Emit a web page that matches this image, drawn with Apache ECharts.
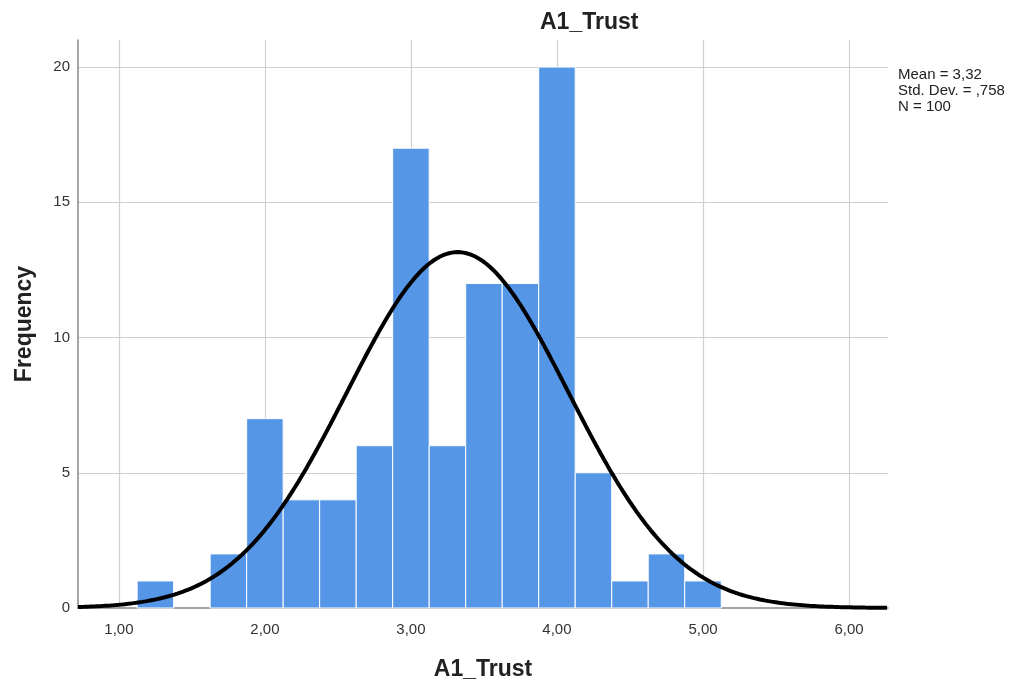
<!DOCTYPE html>
<html>
<head>
<meta charset="utf-8">
<script src="https://cdn.jsdelivr.net/npm/echarts@6/dist/echarts.min.js"></script>
<style>html,body{margin:0;padding:0;background:#fff;}#c{width:1013px;height:686px;}</style>
</head>
<body>
<div id="c"></div>
<script>
// Histogram bins (lower edge, upper edge) and frequencies
const binLower = [1.125, 1.625, 1.875, 2.125, 2.375, 2.625, 2.875, 3.125, 3.375, 3.625, 3.875, 4.125, 4.375, 4.625, 4.875];
const binUpper = [1.375, 1.875, 2.125, 2.375, 2.625, 2.875, 3.125, 3.375, 3.625, 3.875, 4.125, 4.375, 4.625, 4.875, 5.125];
const frequencies = [1, 2, 7, 4, 4, 6, 17, 6, 12, 12, 20, 5, 1, 2, 1];
const xTicks = [1, 2, 3, 4, 5, 6];
const yTicks = [0, 5, 10, 15, 20];
// Summary statistics shown on the chart (define the fitted normal curve)
const statMean = 3.32;
const statSD = 0.758;
const statN = 100;
const binWidth = 0.25;

const xMin = 0.72, xMax = 6.267, yMax = 21;

const barData = binLower.map((lo, i) => [lo, binUpper[i], frequencies[i]]);
const curve = [];
for (let x = xMin; x <= xMax + 1e-9; x += 0.01) {
  const z = (x - statMean) / statSD;
  curve.push([x, statN * binWidth / (statSD * Math.sqrt(2 * Math.PI)) * Math.exp(-0.5 * z * z)]);
}
const gridLines = xTicks.map(v => ({xAxis: v})).concat(yTicks.filter(v => v > 0).map(v => ({yAxis: v})));

const chart = echarts.init(document.getElementById('c'), null, {renderer: 'canvas'});
chart.setOption({
  animation: false,
  backgroundColor: '#fff',
  textStyle: {fontFamily: 'Liberation Sans, Arial, sans-serif'},
  title: {
    text: 'A1_Trust', left: 535, top: 6,
    textStyle: {fontSize: 23, fontWeight: 'bold', color: '#222', fontFamily: 'Liberation Sans, Arial, sans-serif'}
  },
  graphic: [{
    type: 'text', left: 898, top: 67,
    style: {
      text: 'Mean = ' + statMean.toFixed(2).replace('.', ',') + '\nStd. Dev. = ,' + statSD.toFixed(3).split('.')[1] + '\nN = ' + statN,
      font: '15px Liberation Sans, Arial, sans-serif', fill: '#222', lineHeight: 16
    }
  }],
  grid: {left: 78, right: 125, top: 40, bottom: 78, outerBoundsMode: 'none'},
  xAxis: {
    type: 'value', min: xMin, max: xMax,
    name: 'A1_Trust', nameLocation: 'middle', nameGap: 50,
    nameTextStyle: {fontSize: 23, fontWeight: 'bold', color: '#222'},
    axisLine: {show: true, lineStyle: {color: '#888', width: 1.5}},
    axisTick: {show: false, customValues: xTicks},
    splitLine: {show: false},
    axisLabel: {customValues: xTicks, fontSize: 15, color: '#333', margin: 14,
      formatter: v => v.toFixed(2).replace('.', ',')}
  },
  yAxis: {
    type: 'value', min: 0, max: yMax,
    name: 'Frequency', nameLocation: 'middle', nameGap: 42,
    nameTextStyle: {fontSize: 23, fontWeight: 'bold', color: '#222'},
    axisLine: {show: true, lineStyle: {color: '#888', width: 1.5}},
    axisTick: {show: false, customValues: yTicks},
    splitLine: {show: false},
    axisLabel: {customValues: yTicks, fontSize: 15, color: '#333', margin: 8}
  },
  series: [
    {
      type: 'line', data: [], z: 0, silent: true,
      markLine: {silent: true, z: 0, symbol: 'none', label: {show: false},
        lineStyle: {color: '#cfcfcf', width: 1.2, type: 'solid'}, data: gridLines}
    },
    {
      type: 'custom', z: 5, data: barData,
      renderItem: (params, api) => {
        const p0 = api.coord([api.value(0), 0]);
        const p1 = api.coord([api.value(1), api.value(2)]);
        return {type: 'rect', shape: {x: p0[0], y: p1[1], width: p1[0] - p0[0], height: p0[1] - p1[1]},
          style: {fill: '#5596e6', stroke: '#ffffff', lineWidth: 1}};
      }
    },
    {
      type: 'line', z: 6, data: curve, showSymbol: false, symbol: 'none', smooth: false,
      lineStyle: {color: '#000', width: 4}
    }
  ]
});
</script>
</body>
</html>
